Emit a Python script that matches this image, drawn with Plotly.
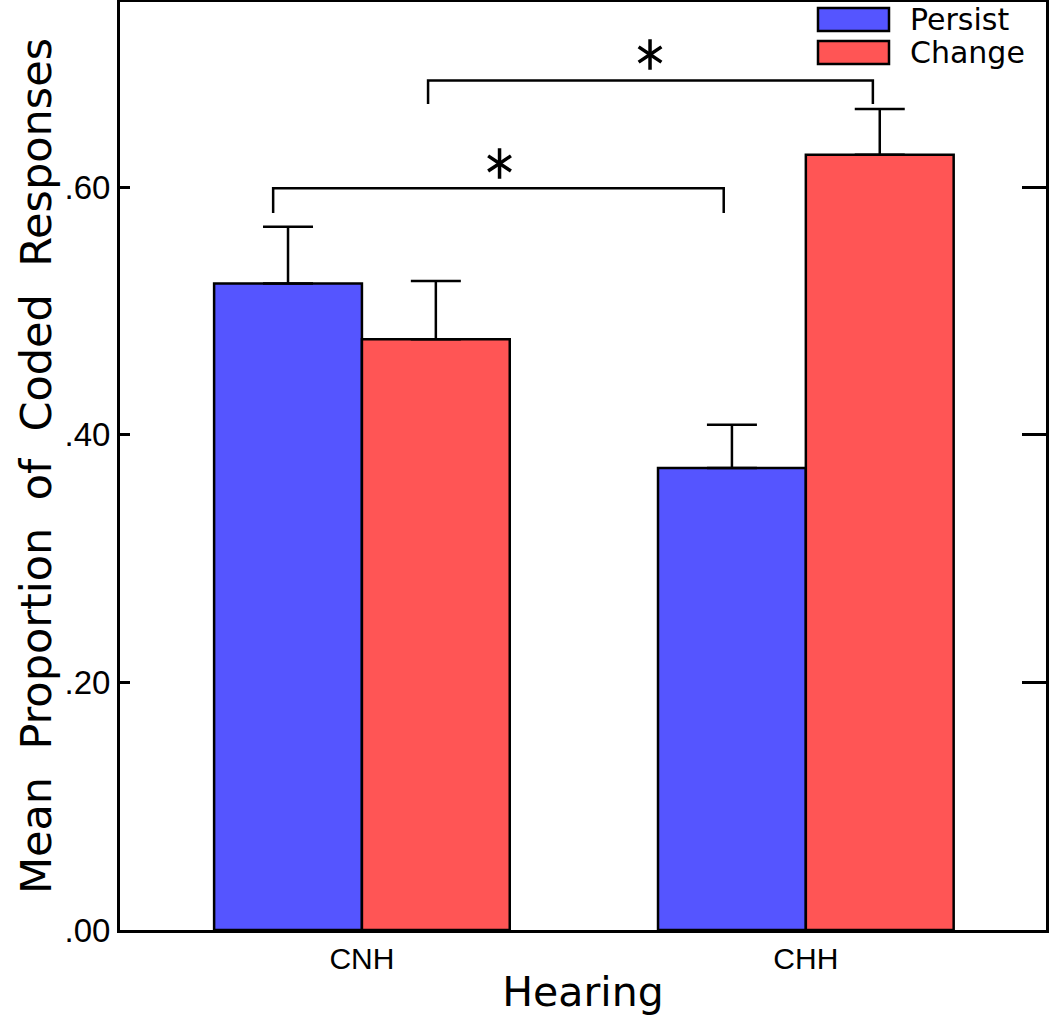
import plotly.graph_objects as go

# ---- data ----
categories = ["CNH", "CHH"]
series_names = ["Persist", "Change"]
persist_means = [0.522, 0.373]
change_means = [0.477, 0.626]
persist_err = [0.046, 0.035]
change_err = [0.047, 0.037]
ytick_vals = [0.0, 0.2, 0.4, 0.6]
ytick_text = [".00", ".20", ".40", ".60"]

# significance brackets: (x_left, x_right, y_top, y_bottom_ends)
brackets = [(-0.20, 0.815, 0.599, 0.579), (0.149, 1.151, 0.686, 0.667)]
stars = [(0.31, 0.619), (0.649, 0.707)]

colors = ["#5555FF", "#FF5555"]
xpos = list(range(len(categories)))
bw = 0.333

L, R, T, B = 120, 4, 2, 89
W, H = 1050, 1019
PW, PH = W - L - R, H - T - B

fig = go.Figure()
for name, means, err, col, off in [
    (series_names[0], persist_means, persist_err, colors[0], -bw),
    (series_names[1], change_means, change_err, colors[1], 0.0),
]:
    fig.add_trace(go.Bar(
        x=xpos, y=means, name=name, width=bw, offset=off,
        marker=dict(color=col, line=dict(color="black", width=2.5)),
        error_y=dict(type="data", array=err, arrayminus=[0] * len(err), symmetric=False,
                     color="black", thickness=2.5, width=25),
        showlegend=False,
    ))

shapes = []
for xl, xr, yt, yb in brackets:
    shapes.append(dict(type="path", xref="x", yref="y",
                       path=f"M {xl},{yb} L {xl},{yt} L {xr},{yt} L {xr},{yb}",
                       line=dict(color="black", width=2.5)))

# manual legend
row_step = 33
annotations = []
for i, name in enumerate(series_names):
    top_px = 8 + row_step * i
    shapes.append(dict(type="rect", xref="paper", yref="paper",
                       x0=(818 - L) / PW, x1=(889 - L) / PW,
                       y0=1 - (top_px + 23 - T) / PH, y1=1 - (top_px - T) / PH,
                       fillcolor=colors[i], line=dict(color="black", width=2.5)))
    annotations.append(dict(xref="paper", yref="paper", x=(908 - L) / PW,
                            y=1 - (top_px + 12 - T) / PH, text=name, showarrow=False,
                            xanchor="left", yanchor="middle",
                            font=dict(family="DejaVu Sans", size=30, color="black")))

for sx, sy in stars:
    for sym in ["y-up-open", "y-down-open"]:
        fig.add_trace(go.Scatter(x=[sx], y=[sy], mode="markers", showlegend=False,
                                 hoverinfo="skip",
                                 marker=dict(symbol=sym, size=19, color="black",
                                             line=dict(color="black", width=3.5))))

fig.update_layout(
    width=W, height=H,
    margin=dict(l=L, r=R, t=T, b=B, autoexpand=False),
    plot_bgcolor="white", paper_bgcolor="white",
    shapes=shapes, annotations=annotations,
    xaxis=dict(range=[-0.545, 1.541], tickvals=xpos, ticktext=categories,
               showline=True, linecolor="black", linewidth=3, mirror=True,
               ticks="", showgrid=False, zeroline=False, automargin=False,
               tickfont=dict(family="Liberation Sans", size=30, color="black"),
               title=dict(text="Hearing", standoff=4,
                          font=dict(family="DejaVu Sans", size=41, color="black"))),
    yaxis=dict(range=[0, 0.7494], tickvals=ytick_vals, ticktext=ytick_text,
               showline=True, linecolor="black", linewidth=3, mirror=True,
               ticks="inside", ticklen=10, tickwidth=3, tickcolor="black",
               showgrid=False, zeroline=False, automargin=False,
               tickfont=dict(family="Liberation Sans", size=33, color="black"),
               title=dict(text="Mean&nbsp; Proportion&nbsp; of&nbsp; Coded&nbsp; Responses",
                          standoff=0,
                          font=dict(family="DejaVu Sans", size=43, color="black"))),
    yaxis2=dict(range=[0, 0.7494], overlaying="y", side="right", tickvals=ytick_vals,
                ticktext=["", "", "", ""], ticks="inside", ticklen=24, tickwidth=3,
                tickcolor="black", showgrid=False, zeroline=False, showline=False,
                automargin=False),
)
fig.add_trace(go.Scatter(x=[0], y=[0], yaxis="y2", mode="markers", showlegend=False,
                         marker=dict(opacity=0), hoverinfo="skip"))

fig.write_html("out.html", config={"displayModeBar": False},
               post_script="document.body.style.margin='0px';document.body.style.overflow='hidden';")
